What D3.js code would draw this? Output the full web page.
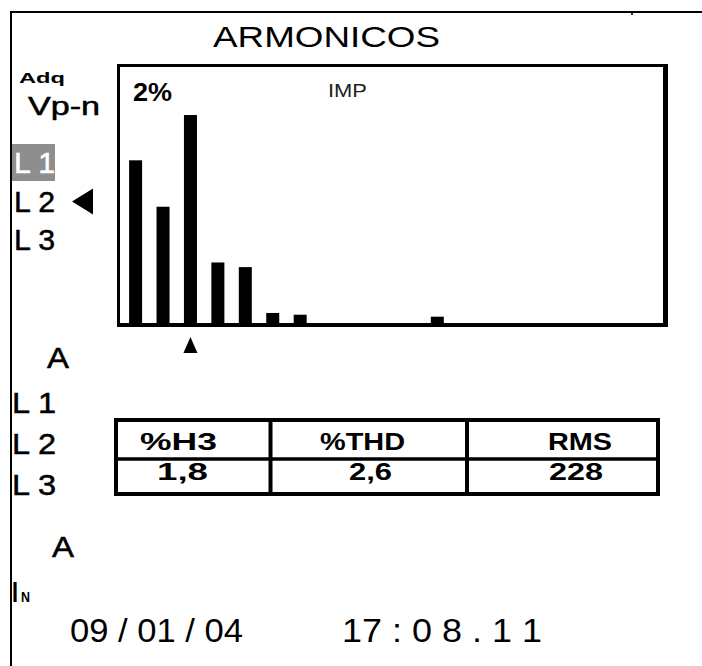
<!DOCTYPE html>
<html>
<head>
<meta charset="utf-8">
<script src="https://cdn.jsdelivr.net/npm/d3@7"></script>
<style>
  html, body { margin: 0; padding: 0; background: #fff; }
  svg { display: block; }
  text { font-family: "Liberation Sans", Arial, Helvetica, sans-serif; fill: #000; }
</style>
</head>
<body>
<script>
// ---- data ----
const title = "ARMONICOS";
const harmonicOrders = [1, 2, 3, 4, 5, 6, 7, 12];
const harmonicValues = [1.41, 1.01, 1.80, 0.53, 0.49, 0.095, 0.08, 0.063];
const selectedOrder = 3;
const scaleLabel = "2%";
const scaleMax = 2;
const modeLabel = "IMP";
const phases = ["L 1", "L 2", "L 3"];
const activePhase = "L 1";
const pointedPhase = "L 2";
const tableHeaders = ["%H3", "%THD", "RMS"];
const tableValues = ["1,8", "2,6", "228"];
const dateLabel = "09 / 01 / 04";
const timeLabel = "17 : 0 8 . 1 1";

// ---- drawing ----
const W = 702, H = 666;
const svg = d3.select("body").append("svg").attr("width", W).attr("height", H);

function txt(str, x, y, size, opts = {}) {
  const t = svg.append("text")
    .attr("x", x).attr("y", y)
    .attr("font-size", size)
    .attr("font-weight", opts.weight || "normal")
    .attr("text-anchor", opts.anchor || "start")
    .text(str);
  if (opts.width) t.attr("textLength", opts.width).attr("lengthAdjust", "spacingAndGlyphs");
  if (opts.fill) t.style("fill", opts.fill);
  if (opts.stroke) t.style("stroke", opts.stroke).style("stroke-width", opts.sw || 0.4);
  return t;
}

// outer frame (top + left edges)
svg.append("rect").attr("x", 10).attr("y", 11).attr("width", W - 10).attr("height", 2).attr("fill", "#000");
svg.append("rect").attr("x", 10).attr("y", 11).attr("width", 2).attr("height", H - 11).attr("fill", "#000");
svg.append("rect").attr("x", 631).attr("y", 13).attr("width", 2).attr("height", 2).attr("fill", "#333");

// title
txt(title, 213, 47, 30, { width: 227 });

// left labels
txt("Adq", 19, 83, 15, { weight: "bold", width: 46 });
txt("Vp-n", 28, 115, 25, { width: 72, stroke: "#000", sw: 0.5 });

// scales
const x = d3.scaleLinear().domain([1, 12]).range([135.6, 437.3]);
const y = d3.scaleLinear().domain([0, scaleMax]).range([324, 91.8]);
const barW = 13;

// chart frame
const fx0 = 117, fx1 = 668, fy0 = 64, fy1 = 327;
svg.append("rect").attr("x", fx0).attr("y", fy0).attr("width", 3).attr("height", fy1 - fy0).attr("fill", "#000");
svg.append("rect").attr("x", fx0).attr("y", fy0).attr("width", fx1 - fx0).attr("height", 3).attr("fill", "#000");
svg.append("rect").attr("x", 663).attr("y", fy0).attr("width", 5).attr("height", fy1 - fy0).attr("fill", "#000");
svg.append("rect").attr("x", fx0).attr("y", y(0) - 1).attr("width", fx1 - fx0).attr("height", fy1 - y(0) + 1).attr("fill", "#000");

// bars
svg.append("g").selectAll("rect")
  .data(harmonicOrders.map((o, i) => ({ o, v: harmonicValues[i] })))
  .join("rect")
  .attr("x", d => x(d.o) - barW / 2)
  .attr("y", d => y(d.v))
  .attr("width", barW)
  .attr("height", d => y(0) - y(d.v))
  .attr("fill", "#000");

// scale and mode labels
txt(scaleLabel, 133, 101, 26, { weight: "bold", width: 39 });
txt(modeLabel, 328, 97, 19, { width: 39, fill: "#222" });

// selected-harmonic marker
const mx = x(selectedOrder);
svg.append("path")
  .attr("d", `M${mx},337 L${mx + 7},353 L${mx - 7},353 Z`)
  .attr("fill", "#000");

// phase list (voltage)
const phaseY = d3.scalePoint().domain(phases).range([173, 250]);
phases.forEach(p => {
  if (p === activePhase) {
    svg.append("rect").attr("x", 12).attr("y", phaseY(p) - 29).attr("width", 43).attr("height", 37).attr("fill", "#8e8e8e");
    txt(p, 14, phaseY(p), 30, { width: 41, fill: "#fff", stroke: "#fff", sw: 0.5 });
  } else {
    txt(p, 14, phaseY(p), 30, { width: 41, stroke: "#000", sw: 0.5 });
  }
});
const py = phaseY(pointedPhase) - 10;
svg.append("path").attr("d", `M72,${py} L93,${py - 13} L93,${py + 13} Z`).attr("fill", "#000");

// current section
txt("A", 47, 368, 29, { width: 22, stroke: "#000", sw: 0.5 });
const phaseY2 = d3.scalePoint().domain(phases).range([413, 495]);
phases.forEach(p => txt(p, 12, phaseY2(p), 30, { width: 44, stroke: "#000", sw: 0.5 }));

// table
const colEdges = [116, 270.5, 467, 658];
const rowEdges = [420, 459, 494];
const tg = svg.append("g").attr("stroke", "#000").attr("fill", "none");
tg.append("rect").attr("x", colEdges[0]).attr("y", rowEdges[0])
  .attr("width", colEdges[3] - colEdges[0]).attr("height", rowEdges[2] - rowEdges[0]).attr("stroke-width", 4);
tg.append("line").attr("x1", colEdges[0]).attr("x2", colEdges[3]).attr("y1", rowEdges[1]).attr("y2", rowEdges[1]).attr("stroke-width", 3.5);
[colEdges[1], colEdges[2]].forEach(cx => tg.append("line").attr("x1", cx).attr("x2", cx).attr("y1", rowEdges[0]).attr("y2", rowEdges[2]).attr("stroke-width", 4));

const headerPos = [{ x: 140, w: 77 }, { x: 320, w: 85 }, { x: 548, w: 64 }];
tableHeaders.forEach((h, i) => txt(h, headerPos[i].x, 450, 24, { weight: "bold", width: headerPos[i].w }));
const valuePos = [{ x: 157, w: 51 }, { x: 349, w: 43 }, { x: 549, w: 54 }];
tableValues.forEach((v, i) => txt(v, valuePos[i].x, 480, 23, { weight: "bold", width: valuePos[i].w }));

// neutral
txt("A", 52, 557, 29, { width: 22, stroke: "#000", sw: 0.5 });
txt("I", 12, 602, 29, { weight: "bold", width: 6 });
txt("N", 21, 602, 14, { weight: "bold", width: 9 });

// date / time
txt(dateLabel, 70, 642, 33, { width: 173 });
txt(timeLabel, 342, 642, 33, { width: 200 });
</script>
</body>
</html>
